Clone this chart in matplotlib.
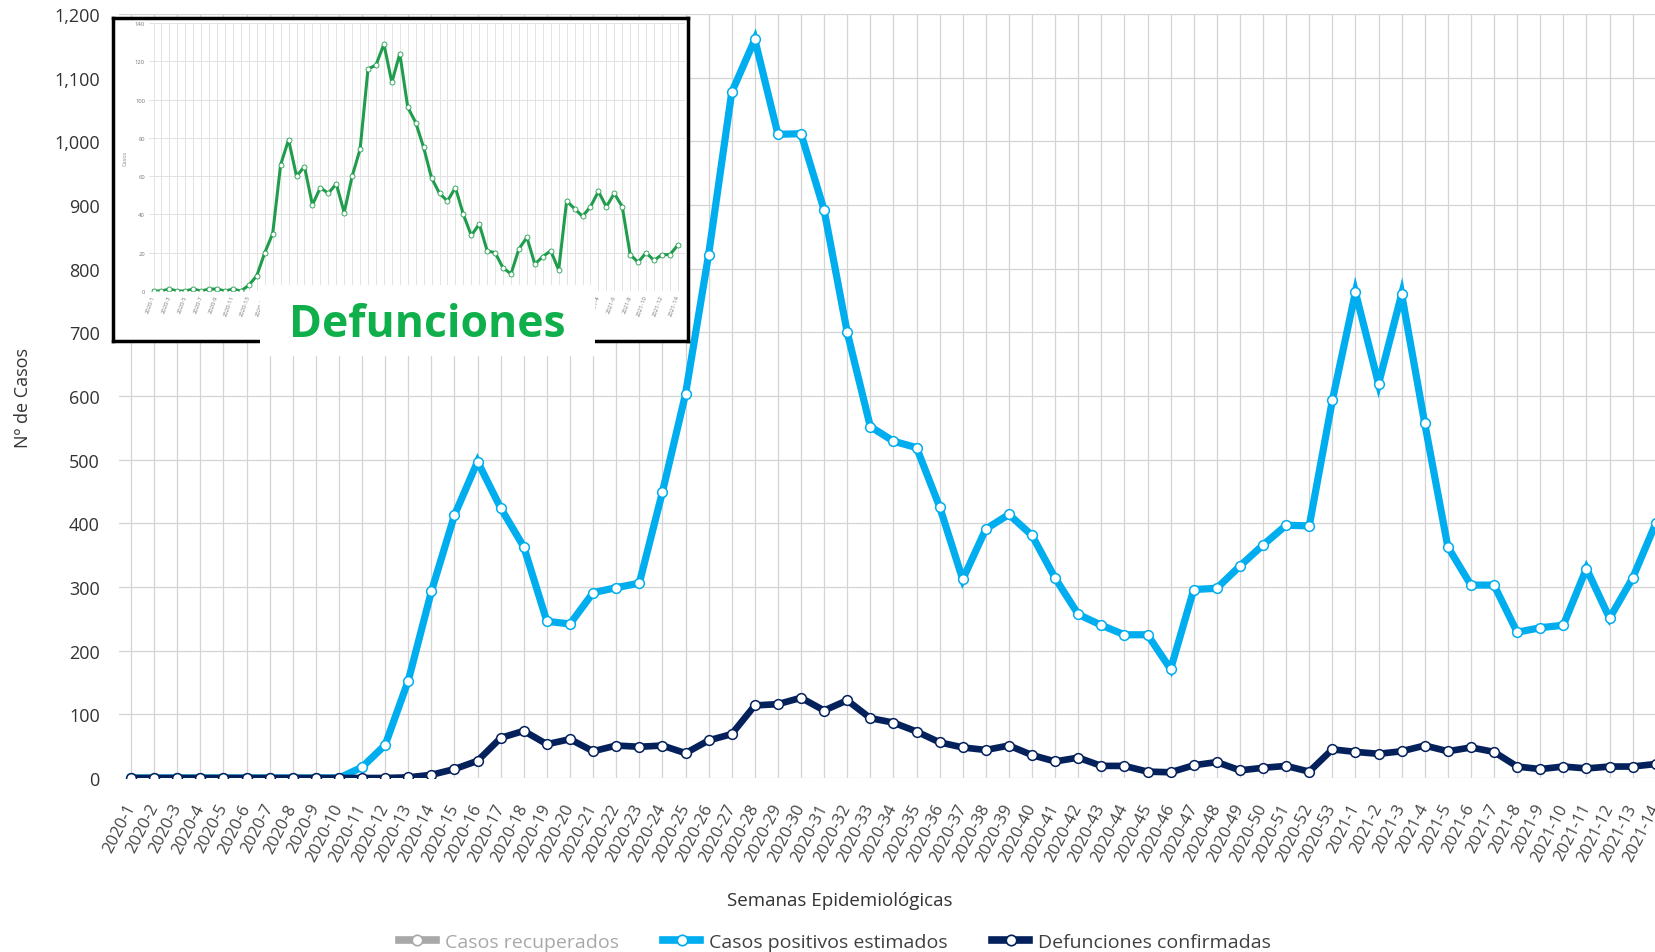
import matplotlib.pyplot as plt
from matplotlib.lines import Line2D

plt.rcParams['font.family'] = ['Open Sans', 'DejaVu Sans']

# semanas epidemiologicas 2020-1 .. 2021-14
semanas = [f"2020-{i}" for i in range(1, 54)] + [f"2021-{i}" for i in range(1, 15)]

positivos = [0, 0, 0, 0, 0, 0, 0, 0, 0, 0,
             17, 52, 153, 293, 413, 497, 424, 363, 246, 242,
             291, 299, 306, 449, 603, 822, 1077, 1160, 1011, 1012,
             892, 700, 552, 529, 519, 426, 312, 391, 414, 381,
             314, 257, 240, 225, 225, 171, 296, 298, 333, 366,
             397, 396, 593, 763, 619, 760, 557, 363, 303, 303,
             229, 236, 240, 329, 251, 314, 400]

defunciones = [0, 0, 0, 0, 0, 0, 0, 0, 0, 0,
               0, 0, 1, 5, 14, 27, 63, 74, 53, 61,
               42, 51, 49, 51, 39, 59, 69, 114, 116, 126,
               106, 122, 94, 87, 73, 56, 48, 44, 51, 36,
               26, 32, 19, 19, 10, 9, 20, 25, 12, 16,
               19, 10, 45, 41, 38, 42, 51, 42, 48, 41,
               18, 14, 18, 15, 18, 18, 22]

# serie del recuadro (grafico de defunciones)
defunciones_inset = [0, 0, 1, 0, 0, 1, 0, 1, 1, 0,
                     1, 0, 3, 8, 20, 30, 66, 79, 60, 65,
                     45, 54, 51, 56, 41, 60, 74, 116, 118, 129,
                     109, 124, 96, 88, 75, 59, 51, 47, 54, 40,
                     29, 35, 21, 20, 12, 9, 22, 28, 14, 18,
                     21, 11, 47, 43, 39, 44, 52, 44, 51, 44,
                     19, 15, 20, 16, 19, 19, 24]

y_ticks = [0, 100, 200, 300, 400, 500, 600, 700, 800, 900, 1000, 1100, 1200]
inset_ticks = [0, 20, 40, 60, 80, 100, 120, 140]

AZUL = "#00AEEF"
MARINO = "#05215C"
GRIS = "#A8A8A8"
VERDE = "#0FAF4B"
VERDE_LINEA = "#1F9D4C"

W, H = 1655, 953
fig = plt.figure(figsize=(W / 100, H / 100), dpi=100)

def fx(px):
    return px / W

def fy(py):
    return 1 - py / H

x = list(range(len(semanas)))

ax = fig.add_axes([fx(119.3), fy(779), fx(1548), 764 / H])
ax.plot(x, positivos, color=AZUL, lw=5.2, marker='o', ms=7,
        mfc='white', mec=AZUL, mew=1.1, solid_joinstyle='miter', zorder=3)
ax.plot(x, defunciones, color=MARINO, lw=4.8, marker='o', ms=7,
        mfc='white', mec=MARINO, mew=1.1, solid_joinstyle='miter', zorder=4)
ax.set_xlim(-0.51, 66.5)
ax.set_ylim(0, 1200)
ax.set_xticks(x)
ax.set_xticklabels(semanas, rotation=63, ha='right', va='center',
                   rotation_mode='anchor', fontsize=12, color='#444444')
ax.set_yticks(y_ticks)
ax.set_yticklabels([f"{v:,}" for v in y_ticks], fontsize=13, color='#333333')
ax.tick_params(axis='x', length=0, pad=19)
ax.tick_params(axis='y', length=0, pad=14)
ax.grid(True, color='#D4D4D4', lw=0.9)
ax.set_axisbelow(True)
for s in ax.spines.values():
    s.set_visible(False)

fig.text(fx(23), fy(398), "Nº de Casos", rotation=90, ha='center', va='center',
         fontsize=13, color='#333333')
fig.text(fx(840), fy(901), "Semanas Epidemiológicas", ha='center', va='center',
         fontsize=13.5, color='#333333')

handles = [
    Line2D([], [], color=GRIS, lw=5.5, marker='o', ms=7.5, mfc='white', mec=GRIS, mew=1.2),
    Line2D([], [], color=AZUL, lw=5.5, marker='o', ms=7.5, mfc='white', mec=AZUL, mew=1.2),
    Line2D([], [], color=MARINO, lw=5.5, marker='o', ms=7.5, mfc='white', mec=MARINO, mew=1.2),
]
leg = fig.legend(handles, ["Casos recuperados", "Casos positivos estimados",
                           "Defunciones confirmadas"],
                 loc='center', bbox_to_anchor=(fx(835), fy(943)), ncol=3,
                 frameon=False, fontsize=14, handlelength=1.9,
                 handletextpad=0.45, columnspacing=2.3, borderaxespad=0)
for t, c in zip(leg.get_texts(), [GRIS, '#404040', '#404040']):
    t.set_color(c)

# recuadro con el grafico de defunciones
marco = fig.add_axes([fx(113), fy(342), fx(575), 323 / H], zorder=5)
marco.set_facecolor('white')
marco.set_xticks([])
marco.set_yticks([])
for s in marco.spines.values():
    s.set_linewidth(2.5)
    s.set_color('black')

ins = fig.add_axes([fx(149), fy(292), fx(536), 268 / H], zorder=6)
ins.patch.set_alpha(0)
ins.plot(x, defunciones_inset, color=VERDE_LINEA, lw=2.2, marker='o', ms=3.6,
         mfc='white', mec=VERDE_LINEA, mew=0.6)
ins.set_xlim(-0.57, 66.9)
ins.set_ylim(0, 140)
ins.set_xticks(x)
ins.set_xticklabels([s if i % 2 == 0 else "" for i, s in enumerate(semanas)],
                    rotation=70, ha='right', va='center', rotation_mode='anchor',
                    fontsize=4.2, color='#777777')
ins.set_yticks(inset_ticks)
ins.set_yticklabels([str(v) for v in inset_ticks], fontsize=4.2, color='#777777')
ins.tick_params(length=0, pad=3)
ins.grid(True, color='#E3E3E3', lw=0.7)
ins.set_axisbelow(True)
ins.set_ylabel("Casos", fontsize=4, color='#888888', labelpad=5)
for s in ins.spines.values():
    s.set_visible(False)

caja = fig.add_axes([fx(260), fy(357), fx(335), 71 / H], zorder=10)
caja.set_facecolor('white')
caja.set_xticks([])
caja.set_yticks([])
for s in caja.spines.values():
    s.set_visible(False)
caja.text(0.5, 0.44, "Defunciones", ha='center', va='center', fontsize=32,
          fontweight='bold', color=VERDE, transform=caja.transAxes)

fig.savefig("out.png", dpi=100)
